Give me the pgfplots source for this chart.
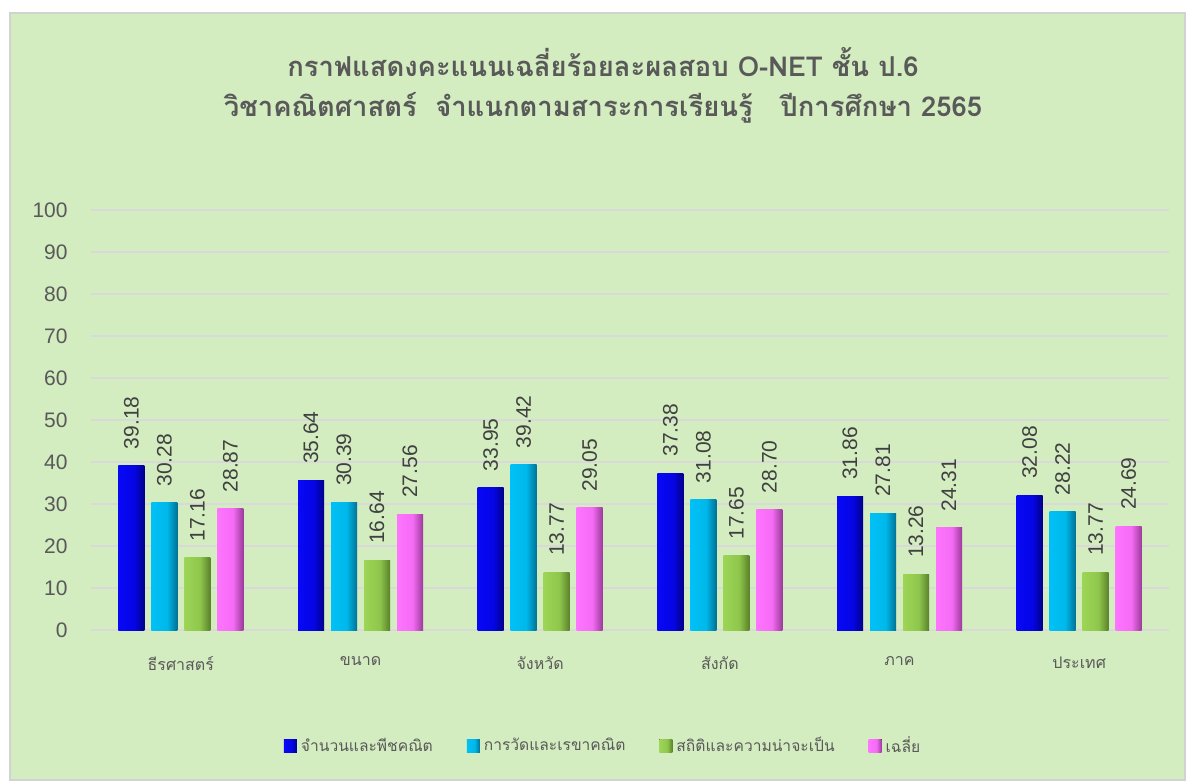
\documentclass[border=0pt]{standalone}
\usepackage{pgfplots}
\pgfplotsset{compat=1.18}
\usepackage{fontspec}
\setmainfont{Liberation Sans}
\newfontfamily\thaifont[Script=Thai]{Loma}
\definecolor{bg}{HTML}{D3ECC0}
\definecolor{txt}{HTML}{595959}
\definecolor{lbl}{HTML}{404040}
\pgfdeclarehorizontalshading{shA}{100bp}{rgb(0bp)=(0,0,0.62); rgb(9bp)=(0,0,0.80); rgb(22bp)=(0.03,0.03,0.97); rgb(55bp)=(0.02,0.02,0.90); rgb(80bp)=(0,0,0.45); rgb(100bp)=(0,0,0.10)}
\pgfdeclarehorizontalshading{shB}{100bp}{rgb(0bp)=(0,0.45,0.62); rgb(9bp)=(0,0.62,0.82); rgb(22bp)=(0,0.76,0.97); rgb(55bp)=(0,0.72,0.92); rgb(80bp)=(0,0.38,0.50); rgb(100bp)=(0,0.14,0.20)}
\pgfdeclarehorizontalshading{shC}{100bp}{rgb(0bp)=(0.36,0.52,0.16); rgb(9bp)=(0.48,0.68,0.24); rgb(22bp)=(0.62,0.84,0.34); rgb(55bp)=(0.56,0.78,0.30); rgb(80bp)=(0.30,0.44,0.13); rgb(100bp)=(0.14,0.20,0.05)}
\pgfdeclarehorizontalshading{shD}{100bp}{rgb(0bp)=(0.78,0.28,0.78); rgb(9bp)=(0.92,0.38,0.92); rgb(22bp)=(1,0.46,1); rgb(55bp)=(0.96,0.42,0.96); rgb(80bp)=(0.52,0.18,0.52); rgb(100bp)=(0.25,0.07,0.25)}
\pgfplotsset{
  sA/.style={draw=none, shading=shA},
  sB/.style={draw=none, shading=shB},
  sC/.style={draw=none, shading=shC},
  sD/.style={draw=none, shading=shD},
}
\begin{document}
\begin{tikzpicture}
\fill[white] (0pt,0pt) rectangle (593pt,390.5pt);
\fill[bg, draw=gray!35, line width=0.8pt] (5pt,0.5pt) rectangle (592.5pt,384pt);
\node[text=txt, font=\thaifont\bfseries\fontsize{13.7}{16}\selectfont] at (301.5pt,359.5pt) {กราฟแสดงคะแนนเฉลี่ยร้อยละผลสอบ O-NET ชั้น ป.6};
\node[text=txt, font=\thaifont\bfseries\fontsize{13.7}{16}\selectfont] at (301.5pt,336.5pt) {วิชาคณิตศาสตร์\ \ จำแนกตามสาระการเรียนรู้\ \ \ ปีการศึกษา 2565};
\begin{axis}[
  at={(45.5pt,75.5pt)}, anchor=south west,
  scale only axis, width=539pt, height=210pt,
  xmin=-0.5, xmax=5.5, ymin=0, ymax=100,
  ytick={0,10,...,100},
  xtick={0,1,2,3,4,5},
  xticklabels={ธีรศาสตร์,ขนาด,จังหวัด,สังกัด,ภาค,ประเทศ},
  /pgf/number format/assume math mode=true,
  ymajorgrids,
  grid style={color=black!15, line width=1pt},
  axis line style={draw=none},
  tick style={draw=none},
  yticklabel style={font=\fontsize{10.5}{12}\selectfont, text=txt, inner sep=0pt, xshift=-11.5pt},
  xticklabel style={font=\thaifont\fontsize{8}{9}\selectfont, text=txt, inner sep=0pt, yshift=-9pt},
  ybar, bar width=13pt,
  nodes near coords={\pgfmathprintnumber[fixed,fixed zerofill,precision=2]{\pgfplotspointmeta}},
  every node near coord/.append style={rotate=90, anchor=west, inner xsep=8pt, inner ysep=0pt, font=\fontsize{10.5}{12}\selectfont, text=lbl},
  legend image code/.code={\fill[#1] (0pt,-3.25pt) rectangle (6.5pt,3.25pt);},
  legend style={draw=none, fill=none, at={(0.476,-0.276)}, anchor=center, legend columns=4,
    font=\thaifont\fontsize{7.8}{9}\selectfont, text=txt,
    /tikz/every even column/.append style={column sep=15pt}},
]
% series A: จำนวนและพีชคณิต
\addplot[sA, bar shift=-24.75pt, forget plot] coordinates {(0,39.18)};
\addplot[sA, bar shift=-24.75pt, forget plot] coordinates {(1,35.64)};
\addplot[sA, bar shift=-24.75pt, forget plot] coordinates {(2,33.95)};
\addplot[sA, bar shift=-24.75pt, forget plot] coordinates {(3,37.38)};
\addplot[sA, bar shift=-24.75pt, forget plot] coordinates {(4,31.86)};
\addplot[sA, bar shift=-24.75pt, forget plot] coordinates {(5,32.08)};
% series B: การวัดและเรขาคณิต
\addplot[sB, bar shift=-8.25pt, forget plot] coordinates {(0,30.28)};
\addplot[sB, bar shift=-8.25pt, forget plot] coordinates {(1,30.39)};
\addplot[sB, bar shift=-8.25pt, forget plot] coordinates {(2,39.42)};
\addplot[sB, bar shift=-8.25pt, forget plot] coordinates {(3,31.08)};
\addplot[sB, bar shift=-8.25pt, forget plot] coordinates {(4,27.81)};
\addplot[sB, bar shift=-8.25pt, forget plot] coordinates {(5,28.22)};
% series C: สถิติและความน่าจะเป็น
\addplot[sC, bar shift=8.25pt, forget plot] coordinates {(0,17.16)};
\addplot[sC, bar shift=8.25pt, forget plot] coordinates {(1,16.64)};
\addplot[sC, bar shift=8.25pt, forget plot] coordinates {(2,13.77)};
\addplot[sC, bar shift=8.25pt, forget plot] coordinates {(3,17.65)};
\addplot[sC, bar shift=8.25pt, forget plot] coordinates {(4,13.26)};
\addplot[sC, bar shift=8.25pt, forget plot] coordinates {(5,13.77)};
% series D: เฉลี่ย
\addplot[sD, bar shift=24.75pt, forget plot] coordinates {(0,28.87)};
\addplot[sD, bar shift=24.75pt, forget plot] coordinates {(1,27.56)};
\addplot[sD, bar shift=24.75pt, forget plot] coordinates {(2,29.05)};
\addplot[sD, bar shift=24.75pt, forget plot] coordinates {(3,28.70)};
\addplot[sD, bar shift=24.75pt, forget plot] coordinates {(4,24.31)};
\addplot[sD, bar shift=24.75pt, forget plot] coordinates {(5,24.69)};
\addlegendimage{sA}
\addlegendimage{sB}
\addlegendimage{sC}
\addlegendimage{sD}
\legend{จำนวนและพีชคณิต,การวัดและเรขาคณิต,สถิติและความน่าจะเป็น,เฉลี่ย}
\end{axis}
\end{tikzpicture}
\end{document}
